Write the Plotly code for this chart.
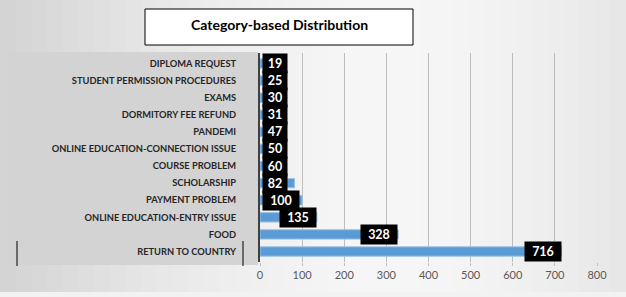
import plotly.graph_objects as go

categories = ["DIPLOMA REQUEST", "STUDENT PERMISSION PROCEDURES", "EXAMS",
              "DORMITORY FEE REFUND", "PANDEMI", "ONLINE EDUCATION-CONNECTION ISSUE",
              "COURSE PROBLEM", "SCHOLARSHIP", "PAYMENT PROBLEM",
              "ONLINE EDUCATION-ENTRY ISSUE", "FOOD", "RETURN TO COUNTRY"]
values = [19, 25, 30, 31, 47, 50, 60, 82, 100, 135, 328, 716]
x_ticks = [0, 100, 200, 300, 400, 500, 600, 700, 800]
title = "Category-based Distribution"

W, H = 626, 297
L, R, T, B = 260, 29, 53, 35
PW, PH = W - L - R, H - T - B
XMAX = 800
px_per_unit = PW / XMAX


def px(xp):
    return (xp - L) / PW


def py(yp):
    return (H - B - yp) / PH


fig = go.Figure()
fig.add_trace(go.Bar(
    y=categories, x=values, orientation="h",
    marker=dict(color="#5b9bd5", line=dict(color="#9dc3e6", width=1)),
    hoverinfo="x+y", showlegend=False,
))

# background gradient bands (horizontal: light centre, gray edges)
shapes = []
n = 40
for i in range(n):
    x0 = i / n
    x1 = (i + 1) / n
    c = (x0 + x1) / 2
    d = abs(c - 0.62) / 0.62
    v = int(247 - 36 * d ** 1.6)
    shapes.append(dict(type="rect", xref="paper", yref="paper",
                       x0=px(x0 * W), x1=px(x1 * W + 1),
                       y0=py(H), y1=py(0), line=dict(width=0),
                       fillcolor=f"rgb({v},{v},{v})", layer="below"))
# left label panel
shapes.append(dict(type="rect", xref="paper", yref="paper",
                   x0=px(7), x1=px(258), y0=py(265), y1=py(52), line=dict(width=0),
                   fillcolor="#d3d3d3", layer="below"))
# bottom light strip
shapes.append(dict(type="rect", xref="paper", yref="paper",
                   x0=px(0), x1=px(W), y0=py(H), y1=py(292), line=dict(width=0),
                   fillcolor="#f2f2f2", layer="below"))
# title box
shapes.append(dict(type="rect", xref="paper", yref="paper",
                   x0=px(145), x1=px(413), y0=py(45), y1=py(9),
                   line=dict(color="#000000", width=1), fillcolor="#ffffff"))
# small cursor-like marks near the last label
for xp in (17, 243):
    shapes.append(dict(type="line", xref="paper", yref="paper",
                       x0=px(xp), x1=px(xp), y0=py(266), y1=py(241),
                       line=dict(color="#000000", width=1)))

annotations = [dict(text="<b>" + title + "</b>", xref="paper", yref="paper",
                    x=px(279), y=py(24), xanchor="center", yanchor="middle",
                    showarrow=False, font=dict(family="Lato", size=14, color="#000000"))]

# data labels: black boxes at bar ends, kept inside plot
for cat, v in zip(categories, values):
    n_d = len(str(v))
    w_px = 20 if n_d <= 2 else 32
    box = w_px + 4
    common = dict(y=cat, xref="x", yref="y", text="<b>%d</b>" % v, showarrow=False,
                  bgcolor="#000000", borderpad=2, width=w_px, align="center",
                  font=dict(family="Lato", size=12.5, color="#ffffff"))
    if v * px_per_unit - box < 12:
        annotations.append(dict(x=0, xanchor="left", xshift=2, **common))
    else:
        annotations.append(dict(x=v, xanchor="right", xshift=0, **common))

fig.update_layout(
    width=W, height=H,
    margin=dict(l=L, r=R, t=T, b=B, autoexpand=False),
    paper_bgcolor="#e6e6e6", plot_bgcolor="rgba(0,0,0,0)",
    bargap=0.45,
    shapes=shapes, annotations=annotations,
    xaxis=dict(range=[0, XMAX], tickvals=x_ticks, showgrid=True, gridcolor="#bdbdbd",
               gridwidth=1, zeroline=False, showline=False, ticks="outside", ticklen=3,
               tickcolor="#bdbdbd", automargin=False,
               tickfont=dict(family="Lato", size=11, color="#595959"), fixedrange=True),
    yaxis=dict(categoryorder="array", categoryarray=categories[::-1],
               showline=True, linecolor="#404040", linewidth=2, ticks="",
               ticklabelstandoff=20, automargin=False,
               tickfont=dict(family="Lato", size=9.3, color="#262626", weight="bold"),
               showgrid=False, fixedrange=True),
    font=dict(family="Lato"),
)

fig.write_html("out.html", config={"displayModeBar": False},
               post_script="document.body.style.margin='0';document.body.style.overflow='hidden';")
